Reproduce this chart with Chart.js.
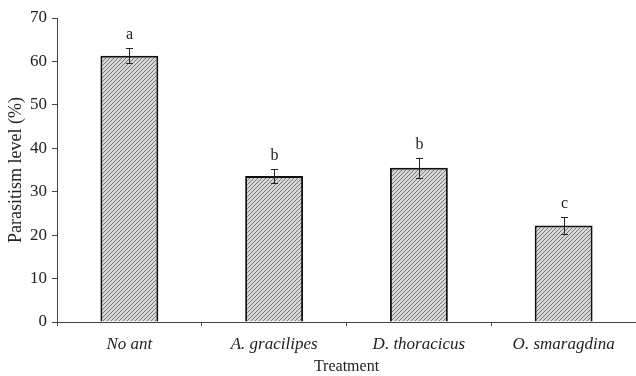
<!DOCTYPE html>
<html>
<head>
<meta charset="utf-8">
<script src="https://cdn.jsdelivr.net/npm/chart.js@4/dist/chart.umd.min.js"></script>
<style>
  html, body { margin: 0; padding: 0; background: #fff; }
  #wrap { width: 636px; height: 376px; }
</style>
</head>
<body>
<div id="wrap"><canvas id="c" width="636" height="376"></canvas></div>
<script>
// Parasitism level by ant treatment
const categories = ['No ant', 'A. gracilipes', 'D. thoracicus', 'O. smaragdina'];
const means = [61.3, 33.6, 35.5, 22.2];
const errors = [1.7, 1.6, 2.3, 1.9];
const letters = ['a', 'b', 'b', 'c'];
const yTicks = [0, 10, 20, 30, 40, 50, 60, 70];

const SERIF = '"Liberation Serif", "Times New Roman", serif';

// Diagonal hatch fill for the bars
function hatchPattern() {
  const s = 4;
  const t = document.createElement('canvas');
  t.width = s; t.height = s;
  const g = t.getContext('2d');
  g.fillStyle = '#d6d6d6';
  g.fillRect(0, 0, s, s);
  g.strokeStyle = '#7a7a7a';
  g.lineWidth = 1;
  g.beginPath();
  g.moveTo(-1, s + 1); g.lineTo(s + 1, -1);
  g.moveTo(-1, 1); g.lineTo(1, -1);
  g.moveTo(s - 1, s + 1); g.lineTo(s + 1, s - 1);
  g.stroke();
  return g.createPattern(t, 'repeat');
}

// Error bars and significance letters above each bar
const annotate = {
  id: 'annotate',
  afterDatasetsDraw(chart) {
    const ctx = chart.ctx;
    const x = chart.scales.x, y = chart.scales.y;
    ctx.save();
    ctx.strokeStyle = '#222';
    ctx.lineWidth = 1;
    means.forEach((m, i) => {
      const px = Math.round(x.getPixelForValue(i)) + 0.5;
      const top = y.getPixelForValue(m + errors[i]);
      const bot = y.getPixelForValue(m - errors[i]);
      ctx.beginPath();
      ctx.moveTo(px, top); ctx.lineTo(px, bot);
      ctx.moveTo(px - 3.5, Math.round(top) + 0.5); ctx.lineTo(px + 3.5, Math.round(top) + 0.5);
      ctx.moveTo(px - 3.5, Math.round(bot) + 0.5); ctx.lineTo(px + 3.5, Math.round(bot) + 0.5);
      ctx.stroke();
      ctx.fillStyle = '#222';
      ctx.font = '16px ' + SERIF;
      ctx.textAlign = 'center';
      ctx.textBaseline = 'alphabetic';
      ctx.fillText(letters[i], px, top - 9);
    });
    ctx.restore();
  }
};

new Chart(document.getElementById('c'), {
  type: 'bar',
  data: {
    labels: categories,
    datasets: [{
      data: means,
      backgroundColor: hatchPattern(),
      borderColor: '#111',
      borderWidth: 2,
      borderSkipped: 'bottom',
      categoryPercentage: 1,
      barPercentage: 0.4
    }]
  },
  options: {
    responsive: false,
    animation: false,
    layout: { padding: { top: 18, right: 0, left: 0, bottom: 0 } },
    plugins: { legend: { display: false }, tooltip: { enabled: false } },
    scales: {
      x: {
        grid: { drawOnChartArea: false, offset: true, tickLength: 4, color: '#444' },
        border: { color: '#444', width: 1 },
        ticks: { color: '#222', padding: 8, font: { family: SERIF, size: 17, style: 'italic' }, maxRotation: 0 },
        title: { display: true, text: 'Treatment', color: '#222', padding: { top: 0, bottom: 0 }, font: { family: SERIF, size: 16 } },
        afterFit(s) { s.height = 54; }
      },
      y: {
        min: 0, max: 70,
        afterBuildTicks(s) { s.ticks = yTicks.map(v => ({ value: v })); },
        grid: { drawOnChartArea: false, tickLength: 5, color: '#444' },
        border: { color: '#444', width: 1 },
        ticks: { color: '#222', padding: 5, font: { family: SERIF, size: 17 } },
        title: { display: true, text: 'Parasitism level (%)', color: '#222', padding: { top: 5, bottom: 0 }, font: { family: SERIF, size: 18 } },
        afterFit(s) { s.width = 57; }
      }
    }
  },
  plugins: [annotate]
});
</script>
</body>
</html>
